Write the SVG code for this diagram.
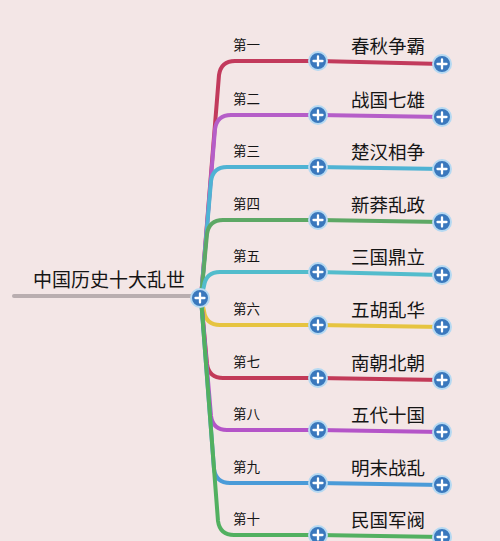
<svg xmlns="http://www.w3.org/2000/svg" width="500" height="541" viewBox="0 0 500 541">
<defs>
<style>
.bg{fill:#f3e6e6}
.ln{fill:none;stroke-width:4;stroke-linecap:round;stroke-linejoin:round}
.t{font-family:"Noto Sans CJK SC","Noto Sans",sans-serif;fill:#151515}
.lab{font-size:13.5px}
.ttl{font-size:18.5px}
.root{font-size:19px}
</style>
<g id="plus">
<circle r="9" fill="#3a78bd" stroke="#b5d9f2" stroke-width="2"/>
<path d="M-4.5 0H4.5M0 -4.5V4.5" stroke="#fff" stroke-width="2.3" stroke-linecap="round"/>
</g>
</defs>
<rect class="bg" x="0" y="0" width="500" height="541"/>
<g id="connectors">
<path class="ln" stroke="#c23a5c" d="M201 298 L219 75 Q221 61 235 61 L318 61 L442 64"/>
<path class="ln" stroke="#b55ec8" d="M201 298 L215 129 Q217 115 231 115 L318 115 L442 117"/>
<path class="ln" stroke="#4fb3d4" d="M201 298 L211 181 Q213 167 227 167 L318 167 L442 169"/>
<path class="ln" stroke="#5da865" d="M201 298 L207 234 Q209 220 223 220 L318 220 L442 222"/>
<path class="ln" stroke="#52bccc" d="M201 298 L204 286 Q206 272 220 272 L318 272 L442 275"/>
<path class="ln" stroke="#e6c440" d="M201 298 L204 311 Q206 325 220 325 L318 325 L442 327"/>
<path class="ln" stroke="#c23a58" d="M201 298 L207 364 Q209 378 223 378 L318 378 L442 380"/>
<path class="ln" stroke="#b454c8" d="M201 298 L211 416 Q213 430 227 430 L318 430 L442 432"/>
<path class="ln" stroke="#4a9bd8" d="M201 298 L214 469 Q216 483 230 483 L318 483 L442 485"/>
<path class="ln" stroke="#52b060" d="M201 298 L218 521 Q220 535 234 535 L318 535 L442 537"/>
</g>
<g id="root">
<line x1="14" y1="296" x2="193" y2="296" stroke="#b9aeb0" stroke-width="4" stroke-linecap="round"/>
<text class="t root" x="33" y="287">中国历史十大乱世</text>
<use href="#plus" x="200" y="298"/>
</g>
<g id="n1"><text class="t lab" x="233" y="50">第一</text><use href="#plus" x="318" y="61"/><text class="t ttl" x="351" y="53">春秋争霸</text><use href="#plus" x="442" y="64"/></g>
<g id="n2"><text class="t lab" x="233" y="104">第二</text><use href="#plus" x="318" y="115"/><text class="t ttl" x="351" y="107">战国七雄</text><use href="#plus" x="442" y="117"/></g>
<g id="n3"><text class="t lab" x="233" y="156">第三</text><use href="#plus" x="318" y="167"/><text class="t ttl" x="351" y="159">楚汉相争</text><use href="#plus" x="442" y="169"/></g>
<g id="n4"><text class="t lab" x="233" y="209">第四</text><use href="#plus" x="318" y="220"/><text class="t ttl" x="351" y="212">新莽乱政</text><use href="#plus" x="442" y="222"/></g>
<g id="n5"><text class="t lab" x="233" y="261">第五</text><use href="#plus" x="318" y="272"/><text class="t ttl" x="351" y="264">三国鼎立</text><use href="#plus" x="442" y="275"/></g>
<g id="n6"><text class="t lab" x="233" y="314">第六</text><use href="#plus" x="318" y="325"/><text class="t ttl" x="351" y="317">五胡乱华</text><use href="#plus" x="442" y="327"/></g>
<g id="n7"><text class="t lab" x="233" y="367">第七</text><use href="#plus" x="318" y="378"/><text class="t ttl" x="351" y="370">南朝北朝</text><use href="#plus" x="442" y="380"/></g>
<g id="n8"><text class="t lab" x="233" y="419">第八</text><use href="#plus" x="318" y="430"/><text class="t ttl" x="351" y="422">五代十国</text><use href="#plus" x="442" y="432"/></g>
<g id="n9"><text class="t lab" x="233" y="472">第九</text><use href="#plus" x="318" y="483"/><text class="t ttl" x="351" y="475">明末战乱</text><use href="#plus" x="442" y="485"/></g>
<g id="n10"><text class="t lab" x="233" y="524">第十</text><use href="#plus" x="318" y="535"/><text class="t ttl" x="351" y="527">民国军阀</text><use href="#plus" x="442" y="537"/></g>
</svg>
